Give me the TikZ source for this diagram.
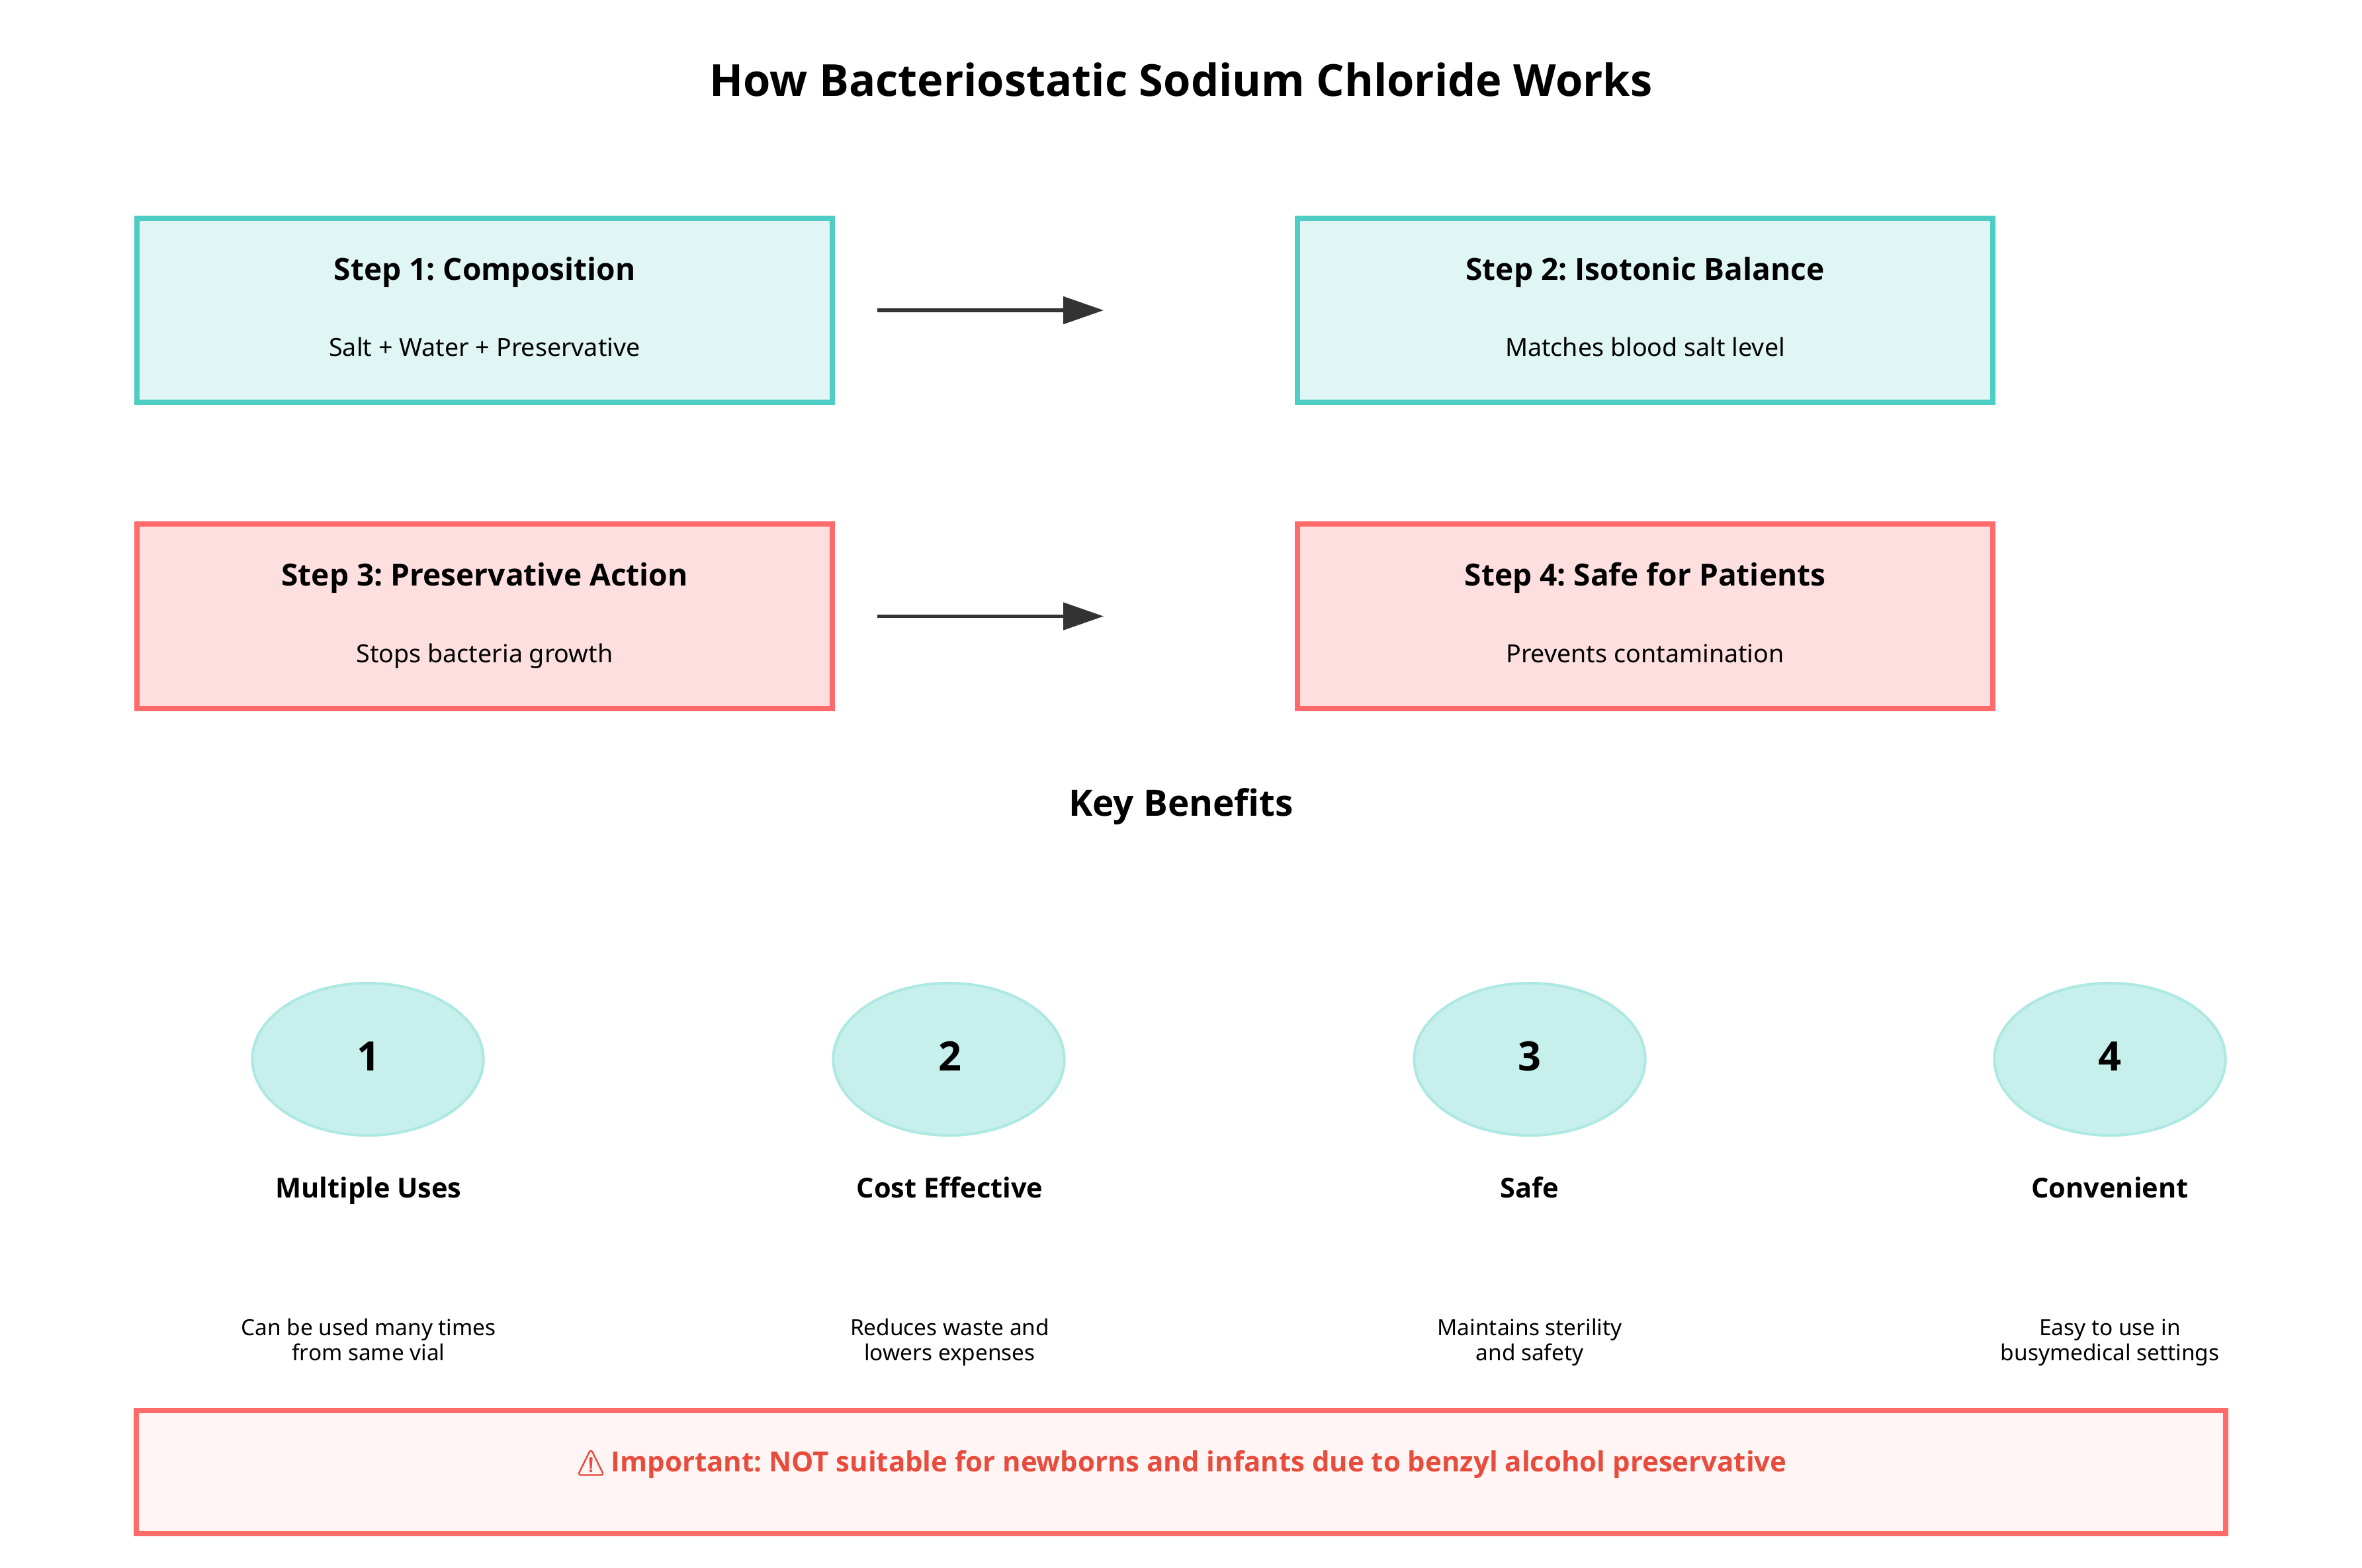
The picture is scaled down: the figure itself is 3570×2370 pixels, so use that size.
\documentclass[tikz,border=0pt]{standalone}
\usepackage{fontspec}
\setmainfont{Noto Sans}
\newfontfamily\boldfam{Open Sans}
\newfontfamily\emojifont{Noto Emoji}[FakeBold=2.5]
\usetikzlibrary{arrows.meta,shapes.geometric}
\definecolor{teal}{HTML}{4ECDC4}
\definecolor{tealfill}{HTML}{E0F6F4}
\definecolor{coral}{HTML}{FF6B6B}
\definecolor{coralfill}{HTML}{FEDFE0}
\definecolor{warnfill}{HTML}{FFF5F5}
\definecolor{warntext}{HTML}{E74C3C}
\definecolor{ovalfill}{HTML}{C7EFEB}
\definecolor{ovalline}{HTML}{ADE8E3}
\definecolor{arrowgrey}{HTML}{333333}
\newcommand{\pxfont}[1]{\fontsize{#1}{#1}\selectfont}
\newcommand{\heavy}{\boldfam\bfseries}
\frenchspacing
\tikzset{
  x=0.01cm,y=-0.01cm,
  txt/.style={inner sep=0,outer sep=0,align=center,text=black,anchor=base},
  stepbox/.style={rectangle,inner sep=0,outer sep=0,minimum width=10.5cm,minimum height=2.78cm,line width=0.08cm},
  tealbox/.style={stepbox,draw=teal,fill=tealfill},
  coralbox/.style={stepbox,draw=coral,fill=coralfill},
  steptitle/.style={txt,font=\pxfont{13.1pt}\heavy},
  stepsub/.style={txt,font=\pxfont{10.7pt}},
  oval/.style={ellipse,inner sep=0,outer sep=0,minimum width=3.49cm,minimum height=2.3cm,fill=ovalfill,draw=ovalline,line width=0.04cm},
  ovalnum/.style={txt,font=\pxfont{17.4pt}\heavy},
  bentitle/.style={txt,font=\pxfont{11.8pt}\heavy},
  bensub/.style={txt,font=\pxfont{9.5pt}},
  flow/.style={draw=arrowgrey,line width=0.05cm,-{Triangle[length=0.61cm,width=0.41cm,fill=arrowgrey]},shorten <=0.68cm,shorten >=2.93cm},
}
\begin{document}
\begin{tikzpicture}
\useasboundingbox (0,0) rectangle (3570,2370);
\fill[white] (0,0) rectangle (3570,2370);
\node[txt,font=\pxfont{19pt}\heavy] (title) at (1785,146) {How Bacteriostatic Sodium Chloride Works};

\node[tealbox] (s1) at (732.5,469) {};
\node[tealbox] (s2) at (2486.5,469) {};
\node[coralbox] (s3) at (732.5,931.5) {};
\node[coralbox] (s4) at (2486.5,931.5) {};

\node[steptitle] (s1t) at (732.5,423) {Step 1: Composition};
\node[stepsub] (s1s) at (732.5,538) {Salt + Water + Preservative};
\node[steptitle] (s2t) at (2486.5,423) {Step 2: Isotonic Balance};
\node[stepsub] (s2s) at (2486.5,538) {Matches blood salt level};
\node[steptitle] (s3t) at (732.5,885) {Step 3: Preservative Action};
\node[stepsub] (s3s) at (732.5,1001) {Stops bacteria growth};
\node[steptitle] (s4t) at (2486.5,885) {Step 4: Safe for Patients};
\node[stepsub] (s4s) at (2486.5,1001) {Prevents contamination};

\draw[flow] (s1.east) -- (s2.west);
\draw[flow] (s3.east) -- (s4.west);

\node[txt,font=\pxfont{15.6pt}\heavy] (key) at (1785,1233) {Key Benefits};

\node[oval] (o1) at (556,1601) {};
\node[oval] (o2) at (1434,1601) {};
\node[oval] (o3) at (2312,1601) {};
\node[oval] (o4) at (3189,1601) {};
\node[ovalnum] (n1) at (557,1618) {1};
\node[ovalnum] (n2) at (1435.5,1618) {2};
\node[ovalnum] (n3) at (2312,1618) {3};
\node[ovalnum] (n4) at (3189,1618) {4};

\node[bentitle] (b1) at (557,1810) {Multiple Uses};
\node[bentitle] (b2) at (1435.5,1810) {Cost Effective};
\node[bentitle] (b3) at (2312,1810) {Safe};
\node[bentitle] (b4) at (3189,1810) {Convenient};

\node[bensub] (d1a) at (557,2018) {Can be used many times};
\node[bensub] (d1b) at (557,2056) {from same vial};
\node[bensub] (d2a) at (1435.5,2018) {Reduces waste and};
\node[bensub] (d2b) at (1435.5,2056) {lowers expenses};
\node[bensub] (d3a) at (2312,2018) {Maintains sterility};
\node[bensub] (d3b) at (2312,2056) {and safety};
\node[bensub] (d4a) at (3189,2018) {Easy to use in};
\node[bensub] (d4b) at (3189,2056) {busymedical settings};

\node[rectangle,inner sep=0,outer sep=0,minimum width=31.57cm,minimum height=1.86cm,draw=coral,fill=warnfill,line width=0.08cm] (warn) at (1785,2225) {};
\node[txt,text=warntext,font=\pxfont{11.92pt}\heavy] (warnt) at (1785,2224) {{\pxfont{10.6pt}\emojifont ⚠} \hspace{-1.1pt}Important: NOT suitable for newborns and infants due to benzyl alcohol preservative};
\end{tikzpicture}
\end{document}
